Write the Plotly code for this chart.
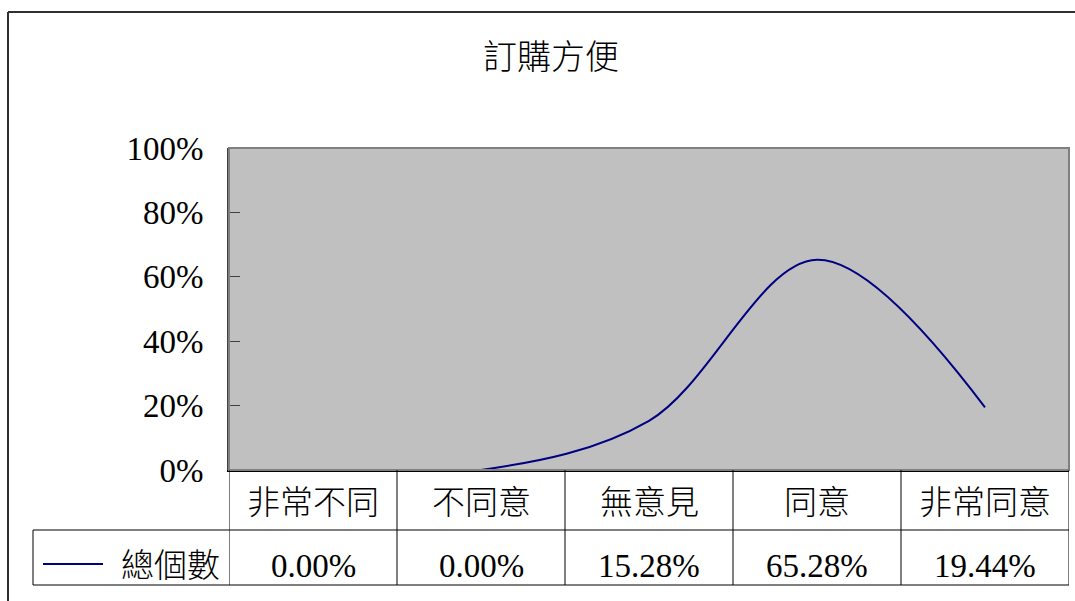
import plotly.graph_objects as go

# Survey question and response categories
title_text = "訂購方便"
categories = ["非常不同", "不同意", "無意見", "同意", "非常同意"]
series_name = "總個數"
values = [0.0, 0.0, 0.1528, 0.6528, 0.1944]
y_ticks = [0.0, 0.2, 0.4, 0.6, 0.8, 1.0]

W, H = 1075, 601
# plot area in pixels
L, R, T, B = 229, 1069, 148, 470


def px_x(p):
    return (p - L) / (R - L)


def px_y(p):
    return (B - p) / (B - T)


CJK = "Noto Sans CJK TC"
SERIF = "Liberation Serif"
NAVY = "#000080"

x_idx = list(range(len(categories)))

fig = go.Figure()
fig.add_trace(go.Scatter(
    x=x_idx, y=values, mode="lines", name=series_name,
    line=dict(color=NAVY, width=2, shape="spline", smoothing=1.0),
    showlegend=False, hoverinfo="skip",
))

shapes = []
annotations = []

# outer chart frame (left and top edges visible)
shapes.append(dict(type="line", xref="paper", yref="paper",
                   x0=px_x(8), x1=px_x(8), y0=px_y(12), y1=px_y(605),
                   line=dict(color="#303030", width=2)))
shapes.append(dict(type="line", xref="paper", yref="paper",
                   x0=px_x(8), x1=px_x(1080), y0=px_y(12), y1=px_y(12),
                   line=dict(color="#303030", width=2)))

# plot-area border
shapes.append(dict(type="rect", xref="paper", yref="paper",
                   x0=0, x1=1, y0=0, y1=1,
                   line=dict(color="#808080", width=2), layer="above"))

# data table below the axis
row_mid, row_bot = 530, 585
n = len(categories)
for i in range(n + 1):
    shapes.append(dict(type="line", xref="x", yref="paper",
                       x0=i - 0.5, x1=i - 0.5, y0=px_y(B), y1=px_y(row_bot),
                       line=dict(color="#000000", width=1)))
for yy in (row_mid, row_bot):
    shapes.append(dict(type="line", xref="paper", yref="paper",
                       x0=px_x(33), x1=1, y0=px_y(yy), y1=px_y(yy),
                       line=dict(color="#000000", width=1)))
shapes.append(dict(type="line", xref="paper", yref="paper",
                   x0=px_x(33), x1=px_x(33), y0=px_y(row_mid), y1=px_y(row_bot),
                   line=dict(color="#000000", width=1)))
# legend key inside the table
shapes.append(dict(type="line", xref="paper", yref="paper",
                   x0=px_x(43), x1=px_x(103), y0=px_y(564), y1=px_y(564),
                   line=dict(color=NAVY, width=2)))

cjk_font = dict(family=CJK, size=33, color="#000000", weight=300)

for i, (c, v) in enumerate(zip(categories, values)):
    annotations.append(dict(x=i, y=px_y(500), xref="x", yref="paper",
                            text=c, showarrow=False, xanchor="center", yanchor="middle",
                            font=cjk_font))
    annotations.append(dict(x=i, y=px_y(566), xref="x", yref="paper",
                            text=f"{v * 100:.2f}%", showarrow=False,
                            xanchor="center", yanchor="middle",
                            font=dict(family=SERIF, size=33, color="#000000")))

annotations.append(dict(x=px_x(222), y=px_y(563), xref="paper", yref="paper",
                        text=series_name, showarrow=False, xanchor="right", yanchor="middle",
                        font=cjk_font))

fig.update_layout(
    width=W, height=H,
    margin=dict(l=L, r=W - R, t=T, b=H - B, pad=0),
    paper_bgcolor="#FFFFFF",
    plot_bgcolor="#C0C0C0",
    title=dict(text=title_text, xref="container", yref="container",
               x=551 / W, y=1 - 57 / H, xanchor="center", yanchor="middle",
               font=dict(family=CJK, size=34, color="#000000", weight=300)),
    showlegend=False,
    shapes=shapes,
    annotations=annotations,
)

fig.update_xaxes(
    range=[-0.5, n - 0.5], showticklabels=False, showgrid=False, zeroline=False,
    showline=True, linecolor="#000000", linewidth=2, ticks="",
)
fig.update_yaxes(
    range=[0, 1], tickvals=y_ticks, tickformat=".0%",
    showgrid=False, zeroline=False,
    showline=True, linecolor="#404040", linewidth=2,
    ticks="inside", ticklen=11, tickwidth=1, tickcolor="#404040",
    ticklabelstandoff=17,
    tickfont=dict(family=SERIF, size=33, color="#000000"),
)

fig.write_html("out.html")
